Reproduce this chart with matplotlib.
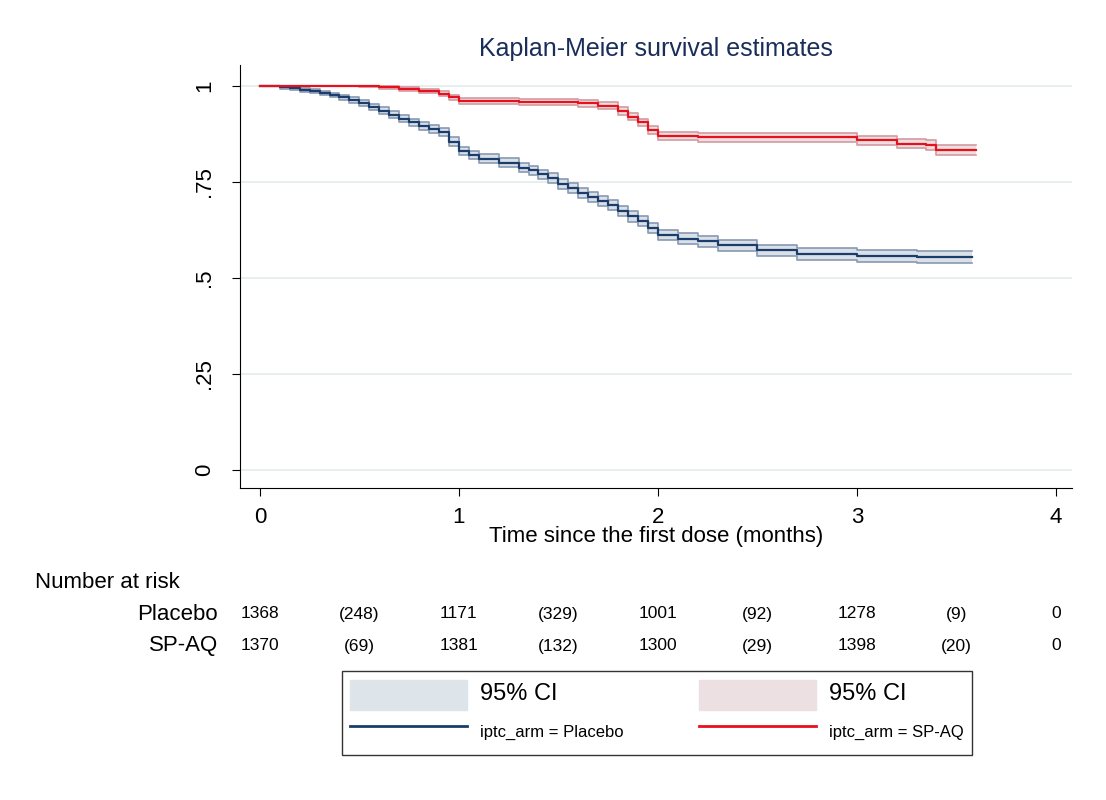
import matplotlib
matplotlib.use("Agg")
from matplotlib import pyplot as plt
from matplotlib.patches import Patch
from matplotlib.lines import Line2D
import matplotlib.transforms as mtransforms

plt.rcParams['font.family'] = ['Liberation Sans', 'DejaVu Sans']

# Kaplan-Meier estimates
t_placebo = [0, 0.1, 0.15, 0.2, 0.25, 0.3, 0.35, 0.4, 0.45, 0.5, 0.55, 0.6, 0.65, 0.7, 0.75, 0.8,
             0.85, 0.9, 0.95, 1.0, 1.05, 1.1, 1.2, 1.3, 1.35, 1.4, 1.45, 1.5, 1.55, 1.6, 1.65,
             1.7, 1.75, 1.8, 1.85, 1.9, 1.95, 2.0, 2.1, 2.2, 2.3, 2.5, 2.7, 3.0, 3.3, 3.58]
s_placebo = [1.0, 0.996, 0.994, 0.99, 0.986, 0.982, 0.976, 0.97, 0.963, 0.955, 0.945, 0.935, 0.925,
             0.915, 0.905, 0.895, 0.888, 0.88, 0.855, 0.83, 0.82, 0.81, 0.8, 0.787, 0.78, 0.77,
             0.76, 0.745, 0.735, 0.722, 0.712, 0.7, 0.69, 0.675, 0.66, 0.648, 0.63, 0.612, 0.602,
             0.595, 0.585, 0.572, 0.562, 0.557, 0.554, 0.554]
ci_placebo = [0.0, 0.003, 0.004, 0.005, 0.005, 0.006, 0.006, 0.007, 0.007, 0.008, 0.008, 0.009,
              0.009, 0.01, 0.01, 0.01, 0.011, 0.011, 0.011, 0.011, 0.011, 0.012, 0.012, 0.012,
              0.012, 0.012, 0.013, 0.013, 0.013, 0.013, 0.013, 0.013, 0.013, 0.013, 0.014, 0.014,
              0.014, 0.014, 0.014, 0.014, 0.014, 0.015, 0.015, 0.015, 0.015, 0.015]

t_spaq = [0, 0.5, 0.6, 0.7, 0.8, 0.9, 0.95, 1.0, 1.3, 1.6, 1.7, 1.8, 1.85, 1.9, 1.95, 2.0, 2.2,
          2.8, 3.0, 3.2, 3.35, 3.4, 3.6]
s_spaq = [1.0, 0.999, 0.996, 0.992, 0.987, 0.98, 0.97, 0.96, 0.958, 0.955, 0.948, 0.935, 0.92,
          0.905, 0.885, 0.87, 0.866, 0.866, 0.858, 0.85, 0.845, 0.833, 0.833]
ci_spaq = [0.0, 0.002, 0.003, 0.004, 0.005, 0.006, 0.007, 0.008, 0.008, 0.009, 0.009, 0.01, 0.01,
           0.01, 0.011, 0.011, 0.011, 0.011, 0.012, 0.012, 0.013, 0.014, 0.014]

risk_x = [0, 0.5, 1, 1.5, 2, 2.5, 3, 3.5, 4]
risk_placebo = ['1368', '(248)', '1171', '(329)', '1001', '(92)', '1278', '(9)', '0']
risk_spaq = ['1370', '(69)', '1381', '(132)', '1300', '(29)', '1398', '(20)', '0']

blue = '#1a3d6b'
red = '#e8101c'

fig = plt.figure(figsize=(11.06, 8.0), dpi=100)
ax = fig.add_axes([0.217, 0.39, 0.752, 0.529])

for t, s, c, col, band, edge in [(t_placebo, s_placebo, ci_placebo, blue, '#d9e0e8', '#8899b3'),
                                 (t_spaq, s_spaq, ci_spaq, red, '#ecdfe0', '#d49aa2')]:
    lo = [a - b for a, b in zip(s, c)]
    hi = [a + b for a, b in zip(s, c)]
    ax.fill_between(t, lo, hi, step='post', color=band, lw=0, zorder=2)
    ax.step(t, lo, where='post', color=edge, lw=1.2, zorder=3)
    ax.step(t, hi, where='post', color=edge, lw=1.2, zorder=3)
    ax.step(t, s, where='post', color=col, lw=1.6, zorder=4)

ax.set_xlim(-0.1, 4.08)
ax.set_ylim(-0.047, 1.055)
ax.set_xticks([0, 1, 2, 3, 4])
ax.set_yticks([0, 0.25, 0.5, 0.75, 1])
ax.set_yticklabels(['0', '.25', '.5', '.75', '1'], rotation=90, va='center')
ax.tick_params(labelsize=16, length=6)
ax.tick_params(axis='x', pad=8)
ax.tick_params(axis='y', pad=12)
ax.yaxis.grid(True, color='#e6ecee', lw=1.3)
ax.set_axisbelow(True)
for sp in ['top', 'right']:
    ax.spines[sp].set_visible(False)
ax.set_title('Kaplan-Meier survival estimates', fontsize=18, color='#1a2e5a', pad=6)
ax.set_xlabel('Time since the first dose (months)', fontsize=16, labelpad=-2)

trans = mtransforms.blended_transform_factory(ax.transData, fig.transFigure)
fig.text(0.032, 1 - 583 / 800, 'Number at risk', fontsize=16, va='center')
fig.text(0.197, 1 - 614 / 800, 'Placebo', fontsize=16, va='center', ha='right')
fig.text(0.197, 1 - 646 / 800, 'SP-AQ', fontsize=16, va='center', ha='right')
for x, a, b in zip(risk_x, risk_placebo, risk_spaq):
    ax.text(x, 1 - 614 / 800, a, transform=trans, fontsize=12.5, ha='center', va='center')
    ax.text(x, 1 - 646 / 800, b, transform=trans, fontsize=12.5, ha='center', va='center')

handles = [Patch(color='#dde4ea'), Line2D([], [], color=blue, lw=2),
           Patch(color='#ede0e2'), Line2D([], [], color=red, lw=2)]
labels = ['95% CI', 'iptc_arm = Placebo', '95% CI', 'iptc_arm = SP-AQ']
leg = fig.legend(handles, labels, ncol=2, loc='center', bbox_to_anchor=(0.594, 1 - 713 / 800),
                 fontsize=12, handlelength=7, handleheight=2.4, frameon=True, fancybox=False,
                 edgecolor='black', columnspacing=4.5, borderpad=0.5, labelspacing=0.4)
for i in (0, 2):
    leg.get_texts()[i].set_fontsize(17)

fig.savefig('out.png', dpi=100)
